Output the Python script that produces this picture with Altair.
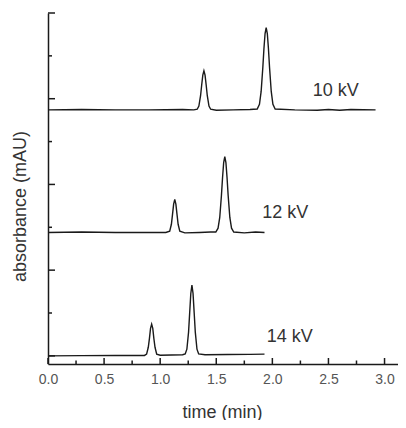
import altair as alt
import pandas as pd

# ---- data ----
t10 = [0.00, 0.30, 0.60, 0.90, 1.20, 1.30,
       1.330, 1.345, 1.360, 1.370, 1.380, 1.390, 1.400, 1.410, 1.420, 1.435, 1.450,
       1.500, 1.650, 1.800,
       1.865, 1.885, 1.900, 1.915, 1.925, 1.935, 1.945, 1.955, 1.965, 1.975, 1.990, 2.005, 2.025,
       2.200, 2.400, 2.500, 2.600, 2.700, 2.920]
v10 = [57.4, 57.5, 57.4, 57.4, 57.5, 57.4,
       57.55, 58.3, 60.7, 63.2, 65.5, 66.5, 65.5, 63.2, 60.7, 58.3, 57.55,
       57.3, 57.4, 57.5,
       57.6, 58.7, 61.7, 67.3, 71.7, 75.2, 76.6, 75.2, 71.7, 67.3, 61.7, 58.7, 57.6,
       57.4, 57.3, 57.5, 57.3, 57.5, 57.4]

t12 = [0.0, 0.3, 0.6, 0.9, 1.05,
       1.085, 1.10, 1.11, 1.12, 1.13, 1.14, 1.15, 1.16, 1.175,
       1.22, 1.35, 1.45,
       1.496, 1.516, 1.531, 1.546, 1.556, 1.566, 1.576, 1.586, 1.596, 1.606, 1.621, 1.636, 1.656,
       1.75, 1.85, 1.93]
v12 = [28.8, 28.9, 28.8, 28.8, 28.8,
       29.1, 30.7, 33.0, 35.4, 36.5, 35.4, 33.0, 30.7, 29.1,
       28.7, 28.8, 28.9,
       28.9, 29.8, 32.3, 37.4, 41.6, 45.1, 46.5, 45.1, 41.6, 37.4, 32.3, 29.8, 28.9,
       28.7, 28.9, 28.8]

t14 = [0.0, 0.3, 0.6, 0.8, 0.86,
       0.879, 0.894, 0.904, 0.914, 0.924, 0.934, 0.944, 0.954, 0.969,
       1.0, 1.1, 1.2,
       1.223, 1.238, 1.253, 1.263, 1.273, 1.283, 1.293, 1.303, 1.313, 1.328, 1.343,
       1.4, 1.6, 1.8, 1.93]
v14 = [0.0, 0.05, 0.1, 0.1, 0.1,
       0.4, 2.0, 4.0, 6.4, 7.4, 6.4, 4.0, 2.0, 0.4,
       0.15, 0.2, 0.25,
       0.45, 1.55, 5.55, 10.05, 14.55, 16.5, 14.55, 10.05, 5.55, 1.55, 0.45,
       0.25, 0.3, 0.35, 0.4]

kv_names = ["10 kV", "12 kV", "14 kV"]
label_t = [2.36, 1.91, 1.95]
label_v = [61.9, 33.3, 4.4]

x_major = [0.0, 0.5, 1.0, 1.5, 2.0, 2.5, 3.0]
x_minor = [0.25, 0.75, 1.25, 1.75, 2.25, 2.75]
y_major = [0, 20, 40, 60, 80]
y_minor = [10, 30, 50, 70]

# ---- build tables ----
rows = []
for name, ts, vs in zip(kv_names, [t10, t12, t14], [v10, v12, v14]):
    rows += [{"kv": name, "t": a, "v": b} for a, b in zip(ts, vs)]
df = pd.DataFrame(rows)
df_lab = pd.DataFrame({"kv": kv_names, "t": label_t, "v": label_v})

FONT = "Liberation Sans"
INK = "#1a1a1a"
W, H = 350, 351

x_scale = alt.Scale(domain=[0, 3.12], nice=False, zero=False)
y_scale = alt.Scale(domain=[-1.9, 80], nice=False, zero=False)

lines = alt.Chart(df).mark_line(color=INK, strokeWidth=1.4).encode(
    x=alt.X("t:Q", scale=x_scale, axis=alt.Axis(
        title="time (min)", values=x_major, format=".1f", ticks=False, tickSize=0,
        grid=False, domainColor=INK, domainWidth=1.5, labelFont=FONT, labelFontSize=14,
        labelColor="#555", labelPadding=8, labelFlush=False, labelOverlap=False,
        titleFont=FONT, titleFontSize=18, titleFontWeight="normal", titleColor="#333",
        titleX=174, titleY=48, titleBaseline="middle", titleAlign="center")),
    y=alt.Y("v:Q", scale=y_scale, axis=alt.Axis(
        title="absorbance (mAU)", labels=False, ticks=False, tickSize=0, grid=False,
        domainColor=INK, domainWidth=1.5, titleFont=FONT, titleFontSize=18,
        titleFontWeight="normal", titleColor="#333", titleAngle=-90,
        titleX=-28, titleY=193, titleBaseline="middle", titleAlign="center")),
    detail="kv:N",
)

xmaj = alt.Chart(pd.DataFrame({"t": x_major})).mark_rule(color=INK, strokeWidth=1.5).encode(
    x=alt.X("t:Q", scale=x_scale), y=alt.value(H), y2=alt.value(H - 6))
xmin = alt.Chart(pd.DataFrame({"t": x_minor})).mark_rule(color=INK, strokeWidth=1.5).encode(
    x=alt.X("t:Q", scale=x_scale), y=alt.value(H), y2=alt.value(H - 3.5))
ymaj = alt.Chart(pd.DataFrame({"v": y_major})).mark_rule(color=INK, strokeWidth=1.5).encode(
    y=alt.Y("v:Q", scale=y_scale), x=alt.value(0), x2=alt.value(7))
ymin = alt.Chart(pd.DataFrame({"v": y_minor})).mark_rule(color=INK, strokeWidth=1.5).encode(
    y=alt.Y("v:Q", scale=y_scale), x=alt.value(0), x2=alt.value(4))

labels = alt.Chart(df_lab).mark_text(align="left", baseline="middle", font=FONT,
                                     fontSize=18, color="#333").encode(
    x=alt.X("t:Q", scale=x_scale), y=alt.Y("v:Q", scale=y_scale), text="kv:N")

chart = alt.layer(lines, xmaj, xmin, ymaj, ymin, labels).properties(
    width=W, height=H,
    padding={"left": 40, "top": 5, "right": 0, "bottom": 56},
    autosize=alt.AutoSizeParams(type="none"),
).configure_view(stroke=None)

chart.save("out.html", embed_options={"renderer": "svg", "actions": False})
